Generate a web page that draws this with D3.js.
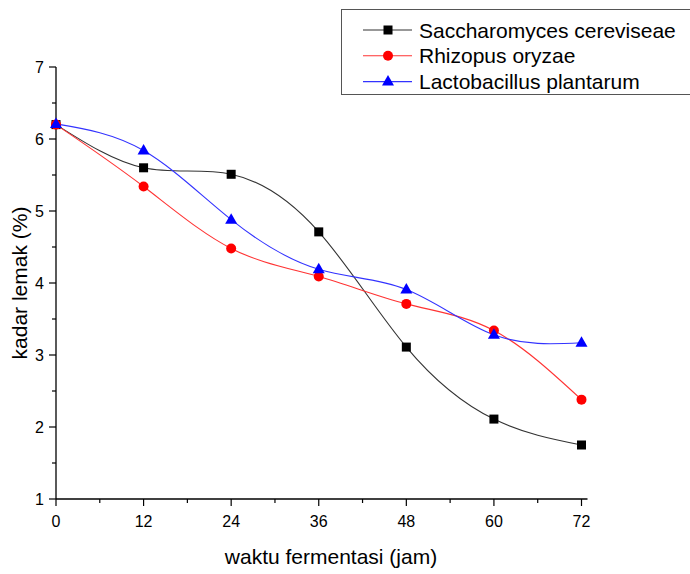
<!DOCTYPE html>
<html>
<head>
<meta charset="utf-8">
<script src="https://cdn.jsdelivr.net/npm/d3@7"></script>
<style>
  body { margin: 0; background: #fff; }
  text { font-family: "Liberation Sans", Arial, sans-serif; fill: #000; }
</style>
</head>
<body>
<div id="chart"></div>
<script>
const hours = [0, 12, 24, 36, 48, 60, 72];
const saccharomyces = [6.2, 5.6, 5.51, 4.71, 3.11, 2.11, 1.75];
const rhizopus = [6.2, 5.34, 4.48, 4.09, 3.71, 3.34, 2.38];
const lactobacillus = [6.21, 5.84, 4.88, 4.19, 3.91, 3.28, 3.17];
const seriesNames = ["Saccharomyces cereviseae", "Rhizopus oryzae", "Lactobacillus plantarum"];
const xTicks = [0, 12, 24, 36, 48, 60, 72];
const yTicks = [1, 2, 3, 4, 5, 6, 7];

const width = 690;
const height = 574;

const svg = d3.select("#chart")
              .append("svg")
              .attr("width", width)
              .attr("height", height);

const x = d3.scaleLinear().domain([0, 72]).range([56, 581.5]);
const y = d3.scaleLinear().domain([1, 7]).range([499, 67]);

// axes (only left + bottom, ticks outward)
const xAxis = svg.append("g").attr("transform", `translate(0,${y(1)})`);
xAxis.append("line").attr("x1", x(0)).attr("x2", x(72) + 6).attr("stroke", "#000").attr("stroke-width", 1.3);
xAxis.selectAll(".minor").data(d3.range(6, 72, 12)).enter().append("line")
     .attr("x1", d => x(d)).attr("x2", d => x(d)).attr("y2", 4).attr("stroke", "#000").attr("stroke-width", 1.2);
xAxis.selectAll(".major").data(xTicks).enter().append("line")
     .attr("x1", d => x(d)).attr("x2", d => x(d)).attr("y2", 7).attr("stroke", "#000").attr("stroke-width", 1.2);
xAxis.selectAll(".lbl").data(xTicks).enter().append("text")
     .attr("x", d => x(d)).attr("y", 28).attr("text-anchor", "middle")
     .style("font-size", "16px").text(d => d);

const yAxis = svg.append("g").attr("transform", `translate(${x(0)},0)`);
yAxis.append("line").attr("y1", y(1)).attr("y2", y(7)).attr("stroke", "#000").attr("stroke-width", 1.3);
yAxis.selectAll(".minor").data(d3.range(1.5, 7, 1)).enter().append("line")
     .attr("y1", d => y(d)).attr("y2", d => y(d)).attr("x2", -4).attr("stroke", "#000").attr("stroke-width", 1.2);
yAxis.selectAll(".major").data(yTicks).enter().append("line")
     .attr("y1", d => y(d)).attr("y2", d => y(d)).attr("x2", -7).attr("stroke", "#000").attr("stroke-width", 1.2);
yAxis.selectAll(".lbl").data(yTicks).enter().append("text")
     .attr("x", -12).attr("y", d => y(d)).attr("dy", "0.36em").attr("text-anchor", "end")
     .style("font-size", "16px").text(d => d);

svg.append("text").attr("x", 331).attr("y", 564).attr("text-anchor", "middle")
   .style("font-size", "21px").text("waktu fermentasi (jam)");
svg.append("text").attr("transform", `translate(27,${(y(1) + y(7)) / 2}) rotate(-90)`)
   .attr("text-anchor", "middle").style("font-size", "21px").text("kadar lemak (%)");

const series = [
  { name: seriesNames[0], values: saccharomyces, colour: "#000", lineColour: "#333", shape: "square" },
  { name: seriesNames[1], values: rhizopus, colour: "#ff0000", lineColour: "#ff3333", shape: "circle" },
  { name: seriesNames[2], values: lactobacillus, colour: "#0000ff", lineColour: "#3333ff", shape: "triangle" }
];

const line = d3.line()
               .x((d, i) => x(hours[i]))
               .y(d => y(d))
               .curve(d3.curveNatural);

function drawMarker(g, shape, colour, cx, cy){
  if(shape === "square"){
    g.append("rect").attr("x", cx - 4.5).attr("y", cy - 4.5).attr("width", 9).attr("height", 9).attr("fill", colour);
  }
  else if(shape === "circle"){
    g.append("circle").attr("cx", cx).attr("cy", cy).attr("r", 5).attr("fill", colour);
  }
  else{
    g.append("path").attr("d", `M${cx},${cy - 6.5}L${cx + 6},${cy + 4}L${cx - 6},${cy + 4}Z`).attr("fill", colour);
  }
}

series.forEach(s => {
  svg.append("path").attr("d", line(s.values)).attr("fill", "none")
     .attr("stroke", s.lineColour).attr("stroke-width", 1.1);
});
series.forEach(s => {
  const g = svg.append("g");
  s.values.forEach((v, i) => drawMarker(g, s.shape, s.colour, x(hours[i]), y(v)));
});

// legend
const legend = svg.append("g");
legend.append("rect").attr("x", 341.5).attr("y", 9.5).attr("width", 360).attr("height", 85)
      .attr("fill", "#fff").attr("stroke", "#555").attr("stroke-width", 1);
series.forEach((s, i) => {
  const ly = 30 + i * 25.8;
  legend.append("line").attr("x1", 363).attr("x2", 412).attr("y1", ly).attr("y2", ly)
        .attr("stroke", s.lineColour).attr("stroke-width", 1.1);
  drawMarker(legend, s.shape, s.colour, 388, ly);
  legend.append("text").attr("x", 419).attr("y", ly + 7.5).style("font-size", "21px").text(s.name);
});
</script>
</body>
</html>
